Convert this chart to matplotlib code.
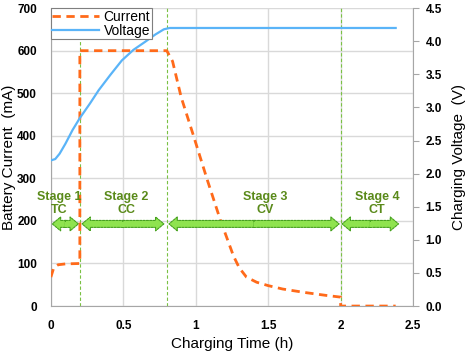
import matplotlib
matplotlib.use("Agg")
import matplotlib.pyplot as plt
from matplotlib.patches import FancyArrowPatch
from matplotlib.ticker import FuncFormatter

plt.rcParams['font.family'] = ['Liberation Sans', 'DejaVu Sans']

# current trace (h, mA)
cur_t = [0.0, 0.02, 0.05, 0.1, 0.2, 0.2, 0.8, 0.84, 0.9, 0.98, 1.08, 1.17, 1.26, 1.3, 1.35, 1.42, 1.5, 1.6, 1.75, 1.9, 2.0, 2.0, 2.38]
cur_i = [68, 90, 97, 99, 100, 600, 600, 575, 490, 405, 296, 202, 118, 90, 68, 56, 48, 40, 32, 25, 21, 0, 0]

# voltage trace (h, V)
volt_t = [0.0, 0.03, 0.06, 0.1, 0.15, 0.2, 0.27, 0.33, 0.41, 0.49, 0.57, 0.65, 0.72, 0.78, 0.82, 1.0, 2.38]
volt_v = [2.20, 2.22, 2.30, 2.45, 2.66, 2.84, 3.06, 3.26, 3.49, 3.71, 3.87, 3.99, 4.10, 4.18, 4.20, 4.20, 4.20]

stage_edges = [0.2, 0.8, 2.0]
stage_names = ["Stage 1\nTC", "Stage 2\nCC", "Stage 3\nCV", "Stage 4\nCT"]
stage_text_x = [0.06, 0.52, 1.48, 2.25]
stage_arrows = [(0.01, 0.19), (0.215, 0.78), (0.815, 1.99), (2.01, 2.40)]

fig = plt.figure(figsize=(4.71, 3.53), dpi=100)
ax = fig.add_axes([0.108, 0.133, 0.769, 0.844])
ax2 = ax.twinx()

grid_c = '#d9d9d9'
spine_c = '#a6a6a6'

ax.set_xlim(0, 2.5)
ax.set_ylim(0, 700)
ax2.set_ylim(0, 4.5)
ax.set_xticks([0, 0.5, 1, 1.5, 2, 2.5])
ax.set_yticks(range(0, 701, 100))
ax2.set_yticks([i * 0.5 for i in range(10)])
ax.xaxis.set_major_formatter(FuncFormatter(lambda v, p: ('%g' % v)))
ax2.yaxis.set_major_formatter(FuncFormatter(lambda v, p: '%.1f' % v))
ax.grid(True, color=grid_c, lw=1.0)
ax.set_axisbelow(True)

for s in ['top', 'right']:
    ax.spines[s].set_visible(False)
ax.spines['left'].set_color(spine_c)
ax.spines['bottom'].set_color(spine_c)
for s in ['top', 'left', 'bottom']:
    ax2.spines[s].set_visible(False)
ax2.spines['right'].set_color(spine_c)

ax.tick_params(axis='both', length=0, labelsize=8.5)
ax.tick_params(axis='y', pad=10)
ax.tick_params(axis='x', pad=10)
ax2.tick_params(axis='y', length=4, color=spine_c, labelsize=8.5, pad=5)
for lab in ax.get_xticklabels() + ax.get_yticklabels() + ax2.get_yticklabels():
    lab.set_fontweight('bold')

ax.set_xlabel("Charging Time (h)", fontsize=11, labelpad=4)
ax.set_ylabel("Battery Current  (mA)", fontsize=11, labelpad=1)
ax2.set_ylabel("Charging Voltage  (V)", fontsize=11, labelpad=7)

# stage boundaries
for x in stage_edges:
    ax.axvline(x, color='#7ac143', lw=0.8, ls=(0, (3, 2)), zorder=1.5)

l1, = ax.plot(cur_t, cur_i, color='#ff6a1a', lw=2, ls=(0, (3, 2)), label='Current', zorder=3)
l2, = ax2.plot(volt_t, volt_v, color='#5ab4f8', lw=1.6, label='Voltage', zorder=3)

# stage arrows and labels
arrow_fc = '#8fe34f'
for (x0, x1), name, tx in zip(stage_arrows, stage_names, stage_text_x):
    mid = (x0 + x1) / 2
    for end in (x0, x1):
        a = FancyArrowPatch((mid, 193), (end, 193),
                            arrowstyle='simple,head_length=6,head_width=10,tail_width=5',
                            fc=arrow_fc, ec='#46a11e', lw=0.8, ls=(0, (2, 1)),
                            shrinkA=0, shrinkB=0, zorder=4)
        ax.add_patch(a)
    # hide the seam where the two halves meet
    ax.plot([mid - 0.01, mid + 0.01], [193, 193], color=arrow_fc, lw=3.6,
            solid_capstyle='butt', zorder=4.5)
    ax.text(tx, 242, name, ha='center', va='center', fontsize=9, fontweight='bold',
            color='#5a8a1a', linespacing=1.1, zorder=5)

leg = ax2.legend([l1, l2], ['Current', 'Voltage'], loc='upper left', bbox_to_anchor=(0.0, 1.0),
                 fontsize=10, frameon=True, fancybox=False, framealpha=1, handlelength=3.4,
                 borderaxespad=0, borderpad=0.1, labelspacing=0.0, handletextpad=0.3)
leg.get_frame().set_edgecolor('#7f7f7f')
leg.get_frame().set_linewidth(0.8)

fig.savefig("out.png", dpi=100)
